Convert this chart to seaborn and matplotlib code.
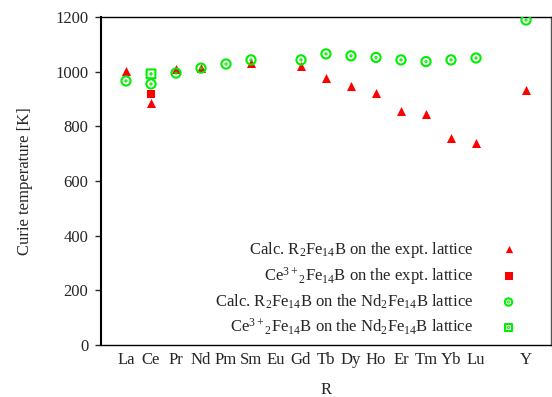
import numpy as np
import pandas as pd
import matplotlib
matplotlib.use("Agg")
import matplotlib.pyplot as plt
from matplotlib.path import Path
import seaborn as sns

# ---- data ----
elements = ["La", "Ce", "Pr", "Nd", "Pm", "Sm", "Eu", "Gd", "Tb", "Dy",
            "Ho", "Er", "Tm", "Yb", "Lu", "", "Y"]
calc_expt = [1002, 885, 1008, 1015, None, 1030, None, 1021, 977, 948,
             922, 856, 845, 757, 739, None, 933]
ce3_expt = [None, 918, None, None, None, None, None, None, None, None,
            None, None, None, None, None, None, None]
calc_nd = [966, 955, 995, 1013, 1028, 1043, None, 1043, 1065, 1058,
           1052, 1043, 1037, 1043, 1050, None, 1189]
ce3_nd = [None, 992, None, None, None, None, None, None, None, None,
          None, None, None, None, None, None, None]

labels = [r"Calc. R$_2$Fe$_{14}$B on the expt. lattice",
          r"Ce$^{3+}{}_2$Fe$_{14}$B on the expt. lattice",
          r"Calc. R$_2$Fe$_{14}$B on the Nd$_2$Fe$_{14}$B lattice",
          r"Ce$^{3+}{}_2$Fe$_{14}$B on the Nd$_2$Fe$_{14}$B lattice"]
yticks = [0, 200, 400, 600, 800, 1000, 1200]

# ---- style ----
sns.set_theme(style="white")
plt.rcParams['font.family'] = ['Liberation Serif', 'DejaVu Serif']
plt.rcParams['mathtext.fontset'] = 'custom'
plt.rcParams['mathtext.rm'] = 'Liberation Serif'
plt.rcParams['mathtext.it'] = 'Liberation Serif:italic'
plt.rcParams['mathtext.bf'] = 'Liberation Serif:bold'

pos = np.arange(len(elements)) + 1
df = pd.DataFrame({"pos": pos, "calc_expt": calc_expt, "ce3_expt": ce3_expt,
                   "calc_nd": calc_nd, "ce3_nd": ce3_nd}).astype(float)

# custom markers: circle with a dot, square with a dot
circ_dot = Path.make_compound_path(Path.circle((0, 0), 1.0),
                                   Path.circle((0, 0), 0.12))
sq = Path([(-1, -1), (1, -1), (1, 1), (-1, 1), (-1, -1)],
          [Path.MOVETO, Path.LINETO, Path.LINETO, Path.LINETO, Path.CLOSEPOLY])
sq_dot = Path.make_compound_path(sq, Path.circle((0, 0), 0.14))

red = "#ff0000"
green = "#00ee00"

fig = plt.figure(figsize=(5.52, 3.97), dpi=100)
ax = fig.add_axes([101/552, 1 - 345/397, 450/552, 328/397])

sns.scatterplot(data=df, x="pos", y="calc_expt", ax=ax, marker="^", s=42,
                color=red, edgecolor=red, linewidth=0, label=labels[0], zorder=3)
sns.scatterplot(data=df, x="pos", y="ce3_expt", ax=ax, marker="s", s=40,
                color=red, edgecolor=red, linewidth=0, label=labels[1], zorder=3)
sns.scatterplot(data=df, x="pos", y="calc_nd", ax=ax, marker=circ_dot, s=44,
                facecolor="none", edgecolor=green, linewidth=1.5,
                label=labels[2], zorder=4)
sns.scatterplot(data=df, x="pos", y="ce3_nd", ax=ax, marker=sq_dot, s=40,
                facecolor="none", edgecolor=green, linewidth=1.5,
                label=labels[3], zorder=4)

ax.set_xlim(0, 18)
ax.set_ylim(0, 1200)
ax.set_xticks(pos)
ax.set_xticklabels(elements, fontsize=12)
ax.set_yticks(yticks)
ax.set_yticklabels([str(v) for v in yticks], fontsize=12)
ax.tick_params(axis="x", length=0, pad=5)
ax.tick_params(axis="y", length=4, width=1, pad=5, left=True, direction="out")
ax.set_xlabel("R", fontsize=12, labelpad=10)
ax.set_ylabel("Curie temperature [K]", fontsize=12, labelpad=16)
for side, sp in ax.spines.items():
    sp.set_color("black")
    sp.set_linewidth(1.0)
ax.spines["left"].set_linewidth(1.5)
ax.spines["right"].set_color("#555555")
ax.grid(False)

leg = ax.legend(loc="lower right", frameon=False, markerfirst=False,
                fontsize=12, handletextpad=1.6, labelspacing=0.33,
                borderaxespad=0.3, handlelength=1.0, alignment="right",
                markerscale=0.8, bbox_to_anchor=(0.95, -0.01))
for t in leg.get_texts():
    t.set_ha("right")

fig.savefig("out.png", dpi=100)
